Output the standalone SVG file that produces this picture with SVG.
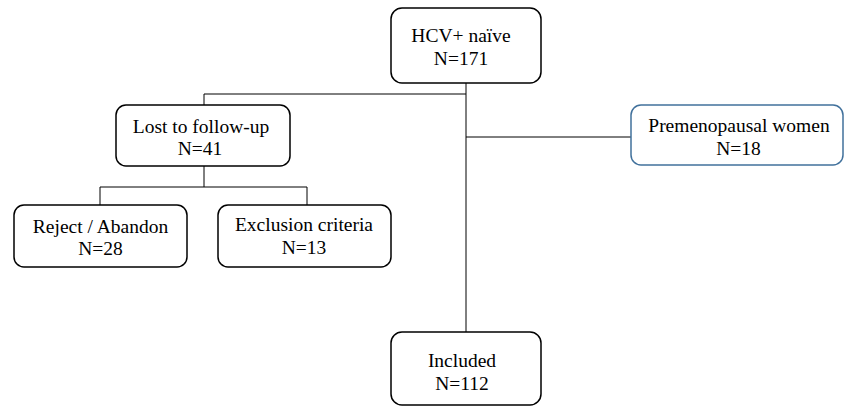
<svg xmlns="http://www.w3.org/2000/svg" width="845" height="406" viewBox="0 0 845 406">
<style>
.box{fill:#fff;stroke:#000;stroke-width:1.5}
.blue{fill:#fff;stroke:#41719c;stroke-width:1.5}
.t{font-family:"Liberation Serif","Times New Roman",serif;font-size:19.5px;fill:#000;text-anchor:middle}
.c{fill:none;stroke:#000;stroke-width:1}
</style>
<rect width="845" height="406" fill="#fff"/>
<g id="connectors">
<path class="c" d="M466,83V332"/>
<path class="c" d="M466,94H204V105"/>
<path class="c" d="M466,137H631"/>
<path class="c" d="M204,166V187"/>
<path class="c" d="M100,205V187H307V205"/>
</g>
<g id="hcv">
<rect class="box" x="391" y="8" width="150" height="75" rx="11"/>
<text class="t" x="461" y="42">HCV+ naïve</text>
<text class="t" x="461" y="65">N=171</text>
</g>
<g id="lost">
<rect class="box" x="116" y="105" width="174" height="61" rx="10"/>
<text class="t" x="201" y="133">Lost to follow-up</text>
<text class="t" x="200" y="155">N=41</text>
</g>
<g id="premenopausal">
<rect class="blue" x="631" y="105" width="212" height="60" rx="10"/>
<text class="t" x="739" y="132">Premenopausal women</text>
<text class="t" x="738.5" y="155">N=18</text>
</g>
<g id="reject">
<rect class="box" x="14" y="205" width="173" height="62" rx="10"/>
<text class="t" x="100.5" y="233">Reject / Abandon</text>
<text class="t" x="100.5" y="255">N=28</text>
</g>
<g id="exclusion">
<rect class="box" x="218" y="205" width="173" height="62" rx="10"/>
<text class="t" x="304" y="231">Exclusion criteria</text>
<text class="t" x="304" y="254">N=13</text>
</g>
<g id="included">
<rect class="box" x="391" y="332" width="150" height="73" rx="11"/>
<text class="t" x="462" y="367">Included</text>
<text class="t" x="462" y="390">N=112</text>
</g>
</svg>
